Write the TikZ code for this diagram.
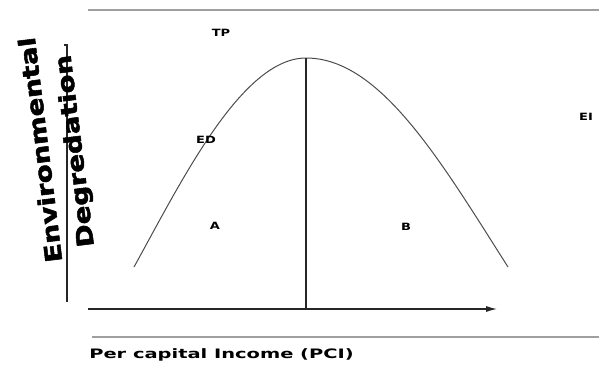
\documentclass[tikz,border=0pt]{standalone}
\usepackage{fontspec}
\setmainfont{DejaVu Sans}
\newfontfamily\heavyfont{DejaVu Sans}[BoldFeatures={FakeBold=2}]
\usetikzlibrary{arrows.meta, positioning}

\begin{document}
\begin{tikzpicture}[
    x=1pt, y=-1pt, % pixel-like units, y going down
    >=Latex, % Set default arrow tip style
    rule/.style={gray!75, line width=1.1pt}, % Style for the grey frame lines
    axisline/.style={black!85, line width=1.1pt}, % Style for the axes
    curve/.style={black!70, line width=1pt}, % Style for the bell curve
    tag/.style={font=\bfseries\fontsize{10}{12}\selectfont, inner sep=0pt, xscale=1.3}, % Style for small labels
    ytitle/.style={font=\heavyfont\bfseries\fontsize{23}{26}\selectfont, inner sep=0pt, rotate=97} % Style for the y title
]

    % Fix the page size
    \useasboundingbox (0,0) rectangle (599,365);

    % Define points
    \coordinate (topL) at (88,10);
    \coordinate (topR) at (599,10);
    \coordinate (lowL) at (92,337);
    \coordinate (lowR) at (599,337);
    \coordinate (origin) at (88,309);  % start of x-axis
    \coordinate (xend) at (497,309);   % arrow tip
    \coordinate (ytop) at (67,45);
    \coordinate (yhook) at (64,45);
    \coordinate (ybot) at (67,302);
    \coordinate (start) at (134,267);  % left end of curve
    \coordinate (peak) at (306,58);    % turning point
    \coordinate (foot) at (306,309);   % below the peak
    \coordinate (end) at (508,267);    % right end of curve

    % Grey frame lines
    \draw[rule] (topL) -- (topR);
    \draw[rule] (lowL) -- (lowR);

    % Axes
    \draw[axisline, -{Latex[length=11pt, width=6pt]}] (origin) -- (xend);
    \draw[axisline] (yhook) -- (ytop) -- (ybot);

    % The curve
    \draw[curve] (start) .. controls (182,180) and (242,58) .. (peak)
                         .. controls (380,58) and (440,160) .. (end);

    % Line from the peak down to the axis
    \draw[axisline] (peak) -- (foot);

    % Add Labels
    \node[tag] (tp) at (221,33) {TP};
    \node[tag] (ed) at (206,140) {ED};
    \node[tag] (a) at (215,226) {A};
    \node[tag] (b) at (406,227) {B};
    \node[tag] (ei) at (586,117) {EI};
    \node[tag, anchor=west, xscale=1.0, font=\bfseries\fontsize{13}{15}\selectfont] (pci) at (89,355) {\scalebox{1.15}[1]{Per capital Income (PCI)}};

    % Title of the y-axis
    \node[ytitle] (env) at (40,150) {\scalebox{1.2}[1]{Environmental}};
    \node[ytitle] (deg) at (76,151) {\scalebox{1.2}[1]{Degredation}};

\end{tikzpicture}
\end{document}
